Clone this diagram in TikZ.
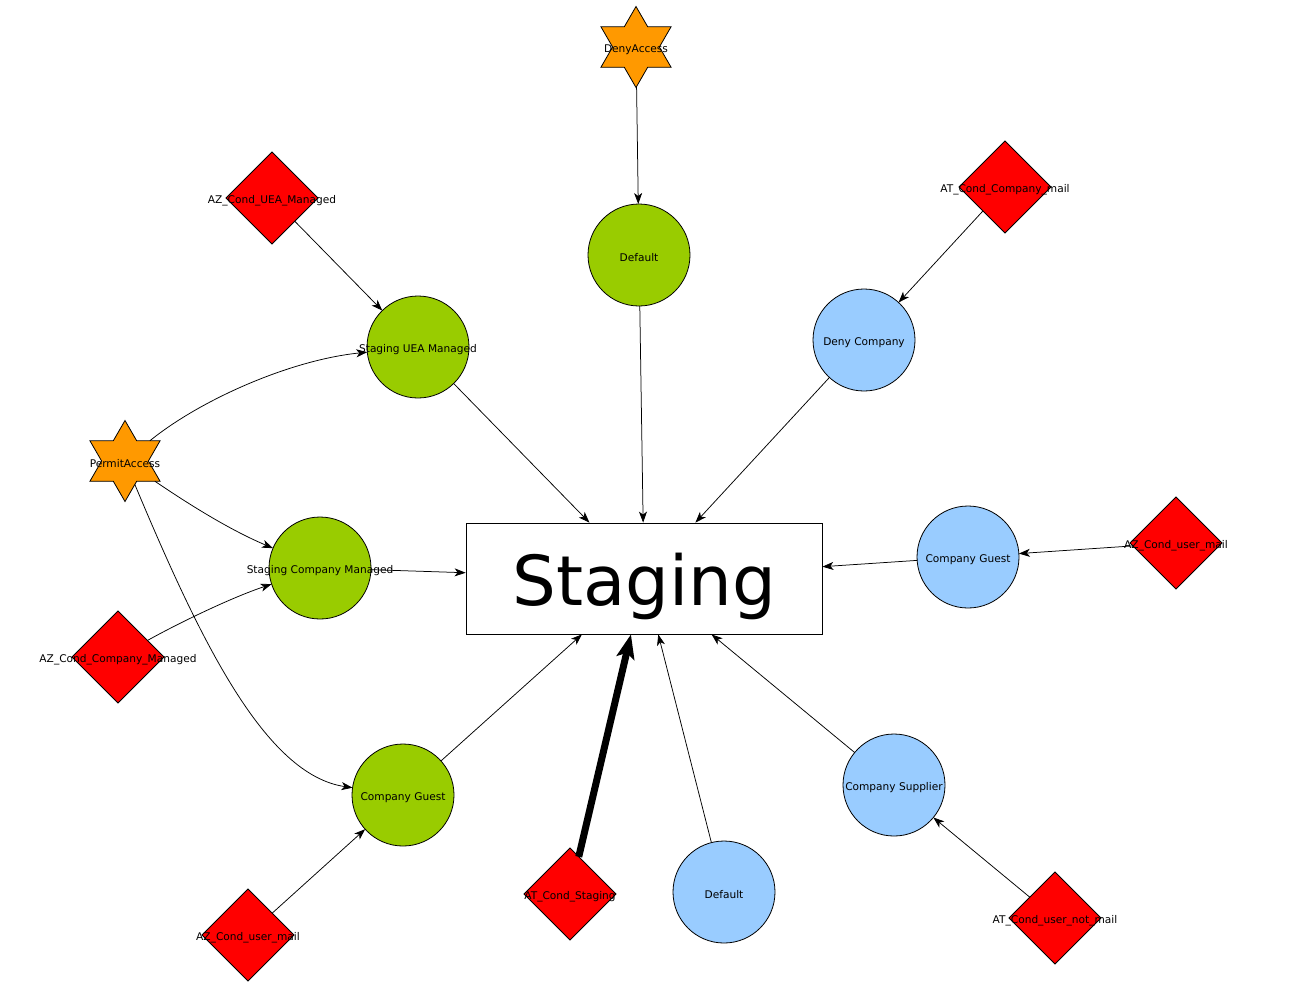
\documentclass[tikz,border=0pt]{standalone}
\usepackage{fontspec}
\setmainfont{DejaVu Sans}
\usetikzlibrary{shapes.geometric,arrows.meta}
\definecolor{cgreen}{HTML}{99CC00}
\definecolor{cblue}{HTML}{99CCFF}
\definecolor{cred}{HTML}{FF0000}
\definecolor{corange}{HTML}{FF9900}
\tikzset{
  base/.style={draw=black, line width=0.8pt, inner sep=0pt, outer sep=0pt},
  gcirc/.style={base, circle, fill=cgreen, minimum size=102pt},
  bcirc/.style={base, circle, fill=cblue, minimum size=102pt},
  cond/.style={base, diamond, fill=cred, minimum width=92pt, minimum height=92pt},
  act/.style={base, star, star points=6, star point ratio=1.732, fill=corange, minimum size=81pt},
  every label/.style={inner sep=0pt, yshift=-2.5pt, font=\fontsize{10.6}{12}\selectfont},
  arr/.style={-{Stealth[length=11pt,width=8pt,inset=3pt]}, line width=0.75pt},
  bigarr/.style={-{Stealth[length=24pt,width=18pt,inset=5pt]}, line width=7pt},
}
\begin{document}
\begin{tikzpicture}[x=1pt,y=-1pt]
\useasboundingbox (0,0) rectangle (1292,986);
% main box
\node[draw=black, line width=0.8pt, minimum width=356pt, minimum height=111pt, inner sep=0pt,
  label={[font=\fontsize{69}{80}\selectfont, yshift=-5pt]center:Staging}] (stg) at (644,578.5) {};
% actions
\node[act, label={center:DenyAccess}] (deny) at (636,47) {};
\node[act, label={center:PermitAccess}] (permit) at (125,461) {};
% green circles
\node[gcirc, label={center:Default}] (gdef) at (639,255) {};
\node[gcirc, label={center:Staging UEA Managed}] (suea) at (418,347) {};
\node[gcirc, label={center:Staging Company Managed}] (scm) at (320,568) {};
\node[gcirc, label={center:Company Guest}] (gcg) at (403,795) {};
% blue circles
\node[bcirc, label={center:Deny Company}] (dcomp) at (864,340) {};
\node[bcirc, label={center:Company Guest}] (bcg) at (968,557) {};
\node[bcirc, label={center:Company Supplier}] (csup) at (894,785) {};
\node[bcirc, label={center:Default}] (bdef) at (724,892) {};
% conditions
\node[cond, label={center:AZ\_Cond\_UEA\_Managed}] (c1) at (272,198) {};
\node[cond, label={center:AT\_Cond\_Company\_mail}] (c2) at (1005,187) {};
\node[cond, label={center:AZ\_Cond\_user\_mail}] (c3) at (1176,543) {};
\node[cond, label={center:AZ\_Cond\_Company\_Managed}] (c4) at (118,657) {};
\node[cond, label={center:AZ\_Cond\_user\_mail}] (c5) at (248,935) {};
\node[cond, label={center:AT\_Cond\_Staging}] (c6) at (570,894) {};
\node[cond, label={center:AT\_Cond\_user\_not\_mail}] (c7) at (1055,918) {};
% connectors
\draw[arr] (deny) -- (gdef);
\draw[arr] (c1) -- (suea);
\draw[arr] (c2) -- (dcomp);
\draw[arr] (c3) -- (bcg);
\draw[arr] (c7) -- (csup);
\draw[arr] (c5) -- (gcg);
\draw[arr] (c4) .. controls (175,625) and (230,598) .. (scm);
\draw[arr] (permit) .. controls (200,400) and (290,360) .. (suea);
\draw[arr] (permit) .. controls (190,505) and (230,530) .. (scm);
\draw[arr] (permit) .. controls (200,640) and (265,775) .. (gcg);
\draw[arr] (suea) -- (stg);
\draw[arr] (gdef) -- (stg);
\draw[arr] (dcomp) -- (stg);
\draw[arr] (bcg) -- (stg);
\draw[arr] (scm) -- (stg);
\draw[arr] (gcg) -- (stg);
\draw[arr] (bdef) -- (stg);
\draw[arr] (csup) -- (stg);
\draw[bigarr] (c6) -- (stg);
\end{tikzpicture}
\end{document}
